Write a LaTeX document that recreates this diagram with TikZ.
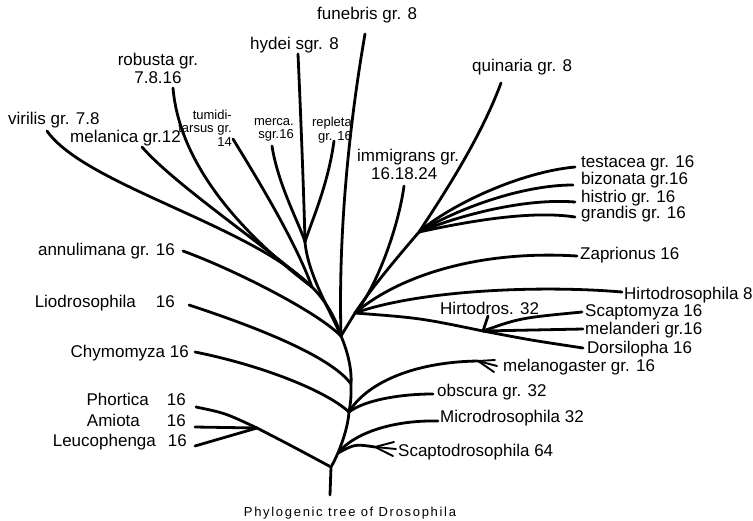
\documentclass[tikz,border=0pt]{standalone}
\usepackage{fontspec}
\setmainfont{Liberation Sans}
\usepackage{xcolor}
\usepackage{tikz}
\usetikzlibrary{calc}

\begin{document}
\begin{tikzpicture}[x=1pt, y=-1pt,
    branch/.style={
        line width=2.8pt,
        line cap=round,
        line join=round
    },
    tine/.style={
        line width=1.9pt,
        line cap=round
    },
    taxon/.style={
        font=\fontsize{17}{18}\selectfont,
        inner sep=0pt,
        anchor=west,
        align=left
    },
    taxonleft/.style={
        taxon,
        anchor=east
    },
    smalltaxon/.style={
        font=\fontsize{13}{13.5}\selectfont,
        inner sep=0pt,
        anchor=east,
        align=right
    },
    captiontext/.style={
        font=\fontsize{13}{14}\selectfont\addfontfeatures{LetterSpace=13},
        inner sep=0pt
    }
]
\useasboundingbox (0,0) rectangle (753,520);

% Junctions along the trunk
\coordinate (root) at (330,495);
\coordinate (J1) at (331,467);
\coordinate (J2) at (338,453);
\coordinate (J3) at (349,412);
\coordinate (J4) at (351,384);
\coordinate (J5) at (341,336);
\coordinate (JR) at (355,313);
\coordinate (JQ) at (419,232);
\coordinate (JH) at (483,331);
\coordinate (JA) at (257,428);
\coordinate (JL) at (312,287);
\coordinate (JM) at (305,242);

% Free ends of the branches
\coordinate (tVir) at (47,131);
\coordinate (tMel) at (142,147);
\coordinate (tRob) at (173,88);
\coordinate (tTum) at (233,139);
\coordinate (tMer) at (272,146);
\coordinate (tRep) at (334,141);
\coordinate (tHyd) at (298,54);
\coordinate (tFun) at (365,34);
\coordinate (tQui) at (501,83);
\coordinate (tImm) at (404,186);
\coordinate (tTes) at (575,167);
\coordinate (tBiz) at (573,185);
\coordinate (tHis) at (575,202);
\coordinate (tGra) at (575,217);
\coordinate (tZap) at (577,256);
\coordinate (tHir) at (622,292);
\coordinate (tSmz) at (582,312);
\coordinate (tMld) at (583,329);
\coordinate (tDor) at (583,348);
\coordinate (tHtd) at (488,316);
\coordinate (tMgs) at (478,361);
\coordinate (tObs) at (433,394);
\coordinate (tMic) at (438,421);
\coordinate (tSdr) at (375,447);
\coordinate (tAnn) at (183,251);
\coordinate (tLio) at (189,305);
\coordinate (tChy) at (195,352);
\coordinate (tPho) at (196,407);
\coordinate (tAmi) at (195,427);
\coordinate (tLeu) at (195,446);

% Labels, left side
\node[taxonleft] (annL) at (175,251) {annulimana gr. 16};
\node[taxonleft] (lioL) at (175,303) {Liodrosophila\hspace{20pt}16};
\node[taxonleft] (chyL) at (189,353) {Chymomyza 16};
\node[taxonleft] (phoL) at (186,399) {Phortica\hspace{18pt}16};
\node[taxonleft] (amiL) at (186,420) {Amiota\hspace{27pt}16};
\node[taxonleft] (leuL) at (187,442) {Leucophenga\hspace{12pt}16};

% Labels, top
\node[taxon] (virL) at (8,120) {virilis gr. 7.8};
\node[taxon] (melL) at (70,138) {melanica gr.12};
\node[taxon, anchor=center, align=center] (robL) at (158,68) {robusta gr.\\7.8.16};
\node[smalltaxon] (tumL) at (232,128) {tumidi-\\tarsus gr.\\14};
\node[smalltaxon] (merL) at (294,130) {merca.\\sgr.16};
\node[smalltaxon] (repL) at (352,130) {repleta\\gr. 16};
\node[taxon] (hydL) at (250,45) {hydei sgr. 8};
\node[taxon] (funL) at (317,15) {funebris gr. 8};
\node[taxon] (quiL) at (472,67) {quinaria gr. 8};
\node[taxon] (immL) at (357,164) {immigrans gr.\\\hspace*{14pt}16.18.24};

% Labels, right side
\node[taxon] (tesL) at (581,163) {testacea gr. 16};
\node[taxon] (bizL) at (581,180) {bizonata gr.16};
\node[taxon] (hisL) at (581,198) {histrio gr. 16};
\node[taxon] (graL) at (581,214) {grandis gr. 16};
\node[taxon] (zapL) at (580,255) {Zaprionus 16};
\node[taxon] (hirL) at (624,295) {Hirtodrosophila 8};
\node[taxon] (htdL) at (440,308) {Hirtodros. 32};
\node[taxon] (smzL) at (585,312) {Scaptomyza 16};
\node[taxon] (mldL) at (585,330) {melanderi gr.16};
\node[taxon] (dorL) at (587,349) {Dorsilopha 16};
\node[taxon] (mgsL) at (503,367) {melanogaster gr. 16};
\node[taxon] (obsL) at (437,392) {obscura gr. 32};
\node[taxon] (micL) at (440,418) {Microdrosophila 32};
\node[taxon] (sdrL) at (398,452) {Scaptodrosophila 64};

\node[captiontext] (capL) at (350,513) {Phylogenic tree of Drosophila};

% Trunk
\draw[branch] (root) -- (J1) .. controls (334,462) and (336,457) .. (J2)
    .. controls (344,438) and (348,425) .. (J3) .. controls (351,400) .. (J4)
    .. controls (352,368) and (347,350) .. (J5) -- (JR);

% Left cluster
\draw[branch] (tVir) .. controls (85,185) and (250,225) .. (JL);
\draw[branch] (tMel) .. controls (175,185) and (265,245) .. (JL);
\draw[branch] (tRob) .. controls (180,170) and (250,240) .. (JL);
\draw[branch] (tTum) .. controls (255,175) and (295,240) .. (JL);
\draw[branch] (JL) .. controls (325,300) and (336,318) .. (J5);
\draw[branch] (tHyd) .. controls (301,120) and (304,200) .. (JM);
\draw[branch] (tMer) .. controls (278,185) and (300,225) .. (JM);
\draw[branch] (tRep) .. controls (328,185) and (312,220) .. (JM);
\draw[branch] (JM) .. controls (308,275) and (330,310) .. (J5);
\draw[branch] (tFun) .. controls (350,120) and (338,230) .. (J5);
\draw[branch] (tAnn) .. controls (230,268) and (315,310) .. (J5);
\draw[branch] (tLio) .. controls (250,325) and (330,355) .. (J4);
\draw[branch] (tChy) .. controls (260,365) and (325,390) .. (J3);
\draw[branch] (tPho) .. controls (225,413) .. (JA) .. controls (290,445) .. (J1);
\draw[branch] (tAmi) -- (JA);
\draw[branch] (tLeu) -- (JA);

% Right cluster
\draw[branch] (tImm) .. controls (398,230) and (375,290) .. (JR);
\draw[branch] (tQui) .. controls (480,140) and (440,200) .. (JQ)
    .. controls (395,260) and (370,290) .. (JR);
\draw[branch] (JQ) .. controls (450,205) and (520,172) .. (tTes);
\draw[branch] (JQ) .. controls (455,210) and (520,185) .. (tBiz);
\draw[branch] (JQ) .. controls (460,215) and (525,198) .. (tHis);
\draw[branch] (JQ) .. controls (465,222) and (530,210) .. (tGra);
\draw[branch] (JR) .. controls (400,275) and (480,250) .. (tZap);
\draw[branch] (JR) .. controls (420,290) and (540,285) .. (tHir);
\draw[branch] (JR) .. controls (420,318) .. (JH) .. controls (530,340) .. (tDor);
\draw[branch] (JH) .. controls (520,318) .. (tSmz);
\draw[branch] (JH) -- (tMld);
\draw[branch] (JH) -- (tHtd);

% Lower right
\draw[branch] (J3) .. controls (365,385) and (410,362) .. (tMgs);
\draw[branch] (J3) .. controls (365,400) and (400,394) .. (tObs);
\draw[branch] (J2) .. controls (355,432) and (395,420) .. (tMic);
\draw[branch] (J2) .. controls (355,444) .. (tSdr);

% Forks
\foreach \dx/\dy in {17/-1, 19/5, 16/11}
    \draw[tine] (tMgs) -- ++(\dx,\dy);
\foreach \dx/\dy in {19/-5, 21/2, 18/9}
    \draw[tine] (tSdr) -- ++(\dx,\dy);

\end{tikzpicture}
\end{document}
